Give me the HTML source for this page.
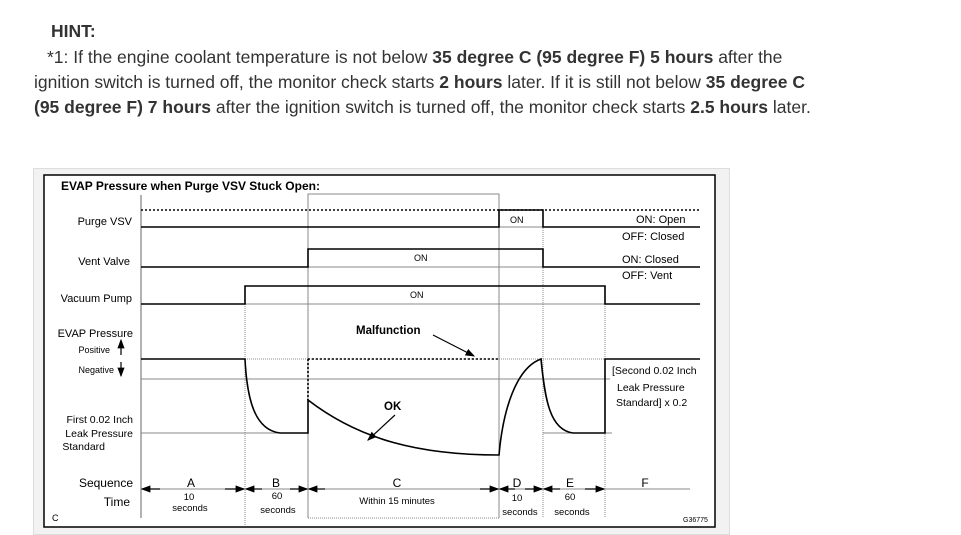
<!DOCTYPE html>
<html><head><meta charset="utf-8"><style>
body{margin:0;width:961px;height:535px;background:#fff;overflow:hidden;font-family:"Liberation Sans",sans-serif;}
.t{position:absolute;color:#333;font-size:17.5px;white-space:nowrap;letter-spacing:0px}
b{font-weight:bold}
</style></head><body>
<div class="t" style="left:51px;top:21px;"><b>HINT:</b></div>
<div class="t" style="left:47px;top:47px;">*1: If the engine coolant temperature is not below <b>35 degree C (95 degree F) 5 hours</b> after the</div>
<div class="t" style="left:34px;top:72px;">ignition switch is turned off, the monitor check starts <b>2 hours</b> later. If it is still not below <b>35 degree C</b></div>
<div class="t" style="left:34px;top:97px;"><b>(95 degree F) 7 hours</b> after the ignition switch is turned off, the monitor check starts <b>2.5 hours</b> later.</div>
<svg style="position:absolute;left:0;top:0" width="961" height="535" font-family="Liberation Sans, sans-serif">
<defs><marker id="a" markerWidth="8" markerHeight="6" refX="7" refY="3" orient="auto"><path d="M0,0L8,3L0,6z" fill="#000"/></marker></defs>
<rect x="33.5" y="168.5" width="696" height="366" fill="#f2f2f2" stroke="#ddd"/>
<rect x="44" y="175" width="671" height="352" fill="#fff" stroke="#000" stroke-width="1.5"/>
<text x="61" y="190" font-size="12" font-weight="bold">EVAP Pressure when Purge VSV Stuck Open:</text>
<g stroke="#888" stroke-width="1" fill="none">
<line x1="141" y1="195" x2="141" y2="518" stroke="#666"/>
<path d="M308,518V194H499V518"/>
<line x1="543" y1="210" x2="543" y2="518" stroke-dasharray="1,1"/>
<line x1="245" y1="286" x2="245" y2="525" stroke-dasharray="1,1"/>
<line x1="605" y1="286" x2="605" y2="518" stroke-dasharray="1,1"/>
<line x1="308" y1="518" x2="499" y2="518" stroke-dasharray="1,1"/>
<line x1="308" y1="267" x2="543" y2="267"/>
<line x1="245" y1="304" x2="605" y2="304"/>
<line x1="499" y1="227" x2="543" y2="227"/>
<line x1="141" y1="359" x2="700" y2="359" stroke-dasharray="1,1"/>
<line x1="141" y1="379" x2="610" y2="379"/>
<line x1="141" y1="433" x2="308" y2="433"/>
<line x1="543" y1="433" x2="612" y2="433"/>
<line x1="141" y1="489" x2="690" y2="489"/>
</g>
<g stroke="#000" stroke-width="1.6" fill="none">
<line x1="141" y1="210" x2="700" y2="210" stroke-dasharray="2,2"/>
<path d="M141,227H499V210H543V227H700"/>
<path d="M141,267H308V249H543V267H700"/>
<path d="M141,304H245V286H605V304H700"/>
<path d="M141,359H245C247,400 255,430 280,433H308V400C360,440 420,455 499,455C503,410 516,368 541,359C545,400 550,430 573,433H605V359H700"/>
<path d="M308,359V400M308,359H499" stroke-dasharray="2,2"/>
</g>
<g stroke="#000" stroke-width="1.2" marker-end="url(#a)">
<line x1="433" y1="335" x2="474" y2="356"/>
<line x1="395" y1="415" x2="368" y2="440"/>
<line x1="121" y1="355" x2="121" y2="340"/>
<line x1="121" y1="362" x2="121" y2="376"/>
<line x1="160" y1="489" x2="142" y2="489"/>
<line x1="225" y1="489" x2="244" y2="489"/>
<line x1="262" y1="489" x2="246" y2="489"/>
<line x1="290" y1="489" x2="307" y2="489"/>
<line x1="325" y1="489" x2="309" y2="489"/>
<line x1="480" y1="489" x2="498" y2="489"/>
<line x1="515" y1="489" x2="500" y2="489"/>
<line x1="525" y1="489" x2="542" y2="489"/>
<line x1="560" y1="489" x2="544" y2="489"/>
<line x1="585" y1="489" x2="604" y2="489"/>
</g>
<g font-size="11" fill="#000" text-anchor="end">
<text x="132" y="225">Purge VSV</text>
<text x="130" y="265">Vent Valve</text>
<text x="132" y="302">Vacuum Pump</text>
<text x="133" y="337">EVAP Pressure</text>
<text x="110" y="353" font-size="9">Positive</text>
<text x="114" y="373" font-size="9">Negative</text>
<text x="133" y="423" font-size="10.5">First 0.02 Inch</text>
<text x="133" y="437" font-size="10.5">Leak Pressure</text>
<text x="105" y="450" font-size="10.5">Standard</text>
<text x="133" y="487" font-size="12">Sequence</text>
<text x="130" y="506" font-size="12">Time</text>
</g>
<g font-size="10" fill="#000">
<text x="636" y="223" font-size="11">ON: Open</text>
<text x="622" y="240" font-size="11">OFF: Closed</text>
<text x="622" y="263" font-size="11">ON: Closed</text>
<text x="622" y="279" font-size="11">OFF: Vent</text>
<text x="510" y="223" font-size="9">ON</text>
<text x="414" y="261" font-size="9">ON</text>
<text x="410" y="298" font-size="9">ON</text>
<text x="356" y="334" font-size="11.5" font-weight="bold">Malfunction</text>
<text x="384" y="410" font-size="11.5" font-weight="bold">OK</text>
<text x="612" y="374" font-size="10.5">[Second 0.02 Inch</text>
<text x="617" y="391" font-size="10.5">Leak Pressure</text>
<text x="616" y="406" font-size="10.5">Standard] x 0.2</text>
<g text-anchor="middle" font-size="12">
<text x="191" y="487">A</text><text x="276" y="487">B</text><text x="397" y="487">C</text>
<text x="517" y="487">D</text><text x="570" y="487">E</text><text x="645" y="487">F</text>
</g>
<g text-anchor="middle" font-size="9.5">
<text x="189" y="500">10</text><text x="190" y="511">seconds</text>
<text x="277" y="499">60</text><text x="278" y="513">seconds</text>
<text x="397" y="504">Within 15 minutes</text>
<text x="517" y="501">10</text><text x="520" y="515">seconds</text>
<text x="570" y="500">60</text><text x="572" y="515">seconds</text>
</g>
<text x="52" y="521" font-size="9">C</text>
<text x="683" y="522" font-size="7">G36775</text>
</g>
</svg>
</body></html>
